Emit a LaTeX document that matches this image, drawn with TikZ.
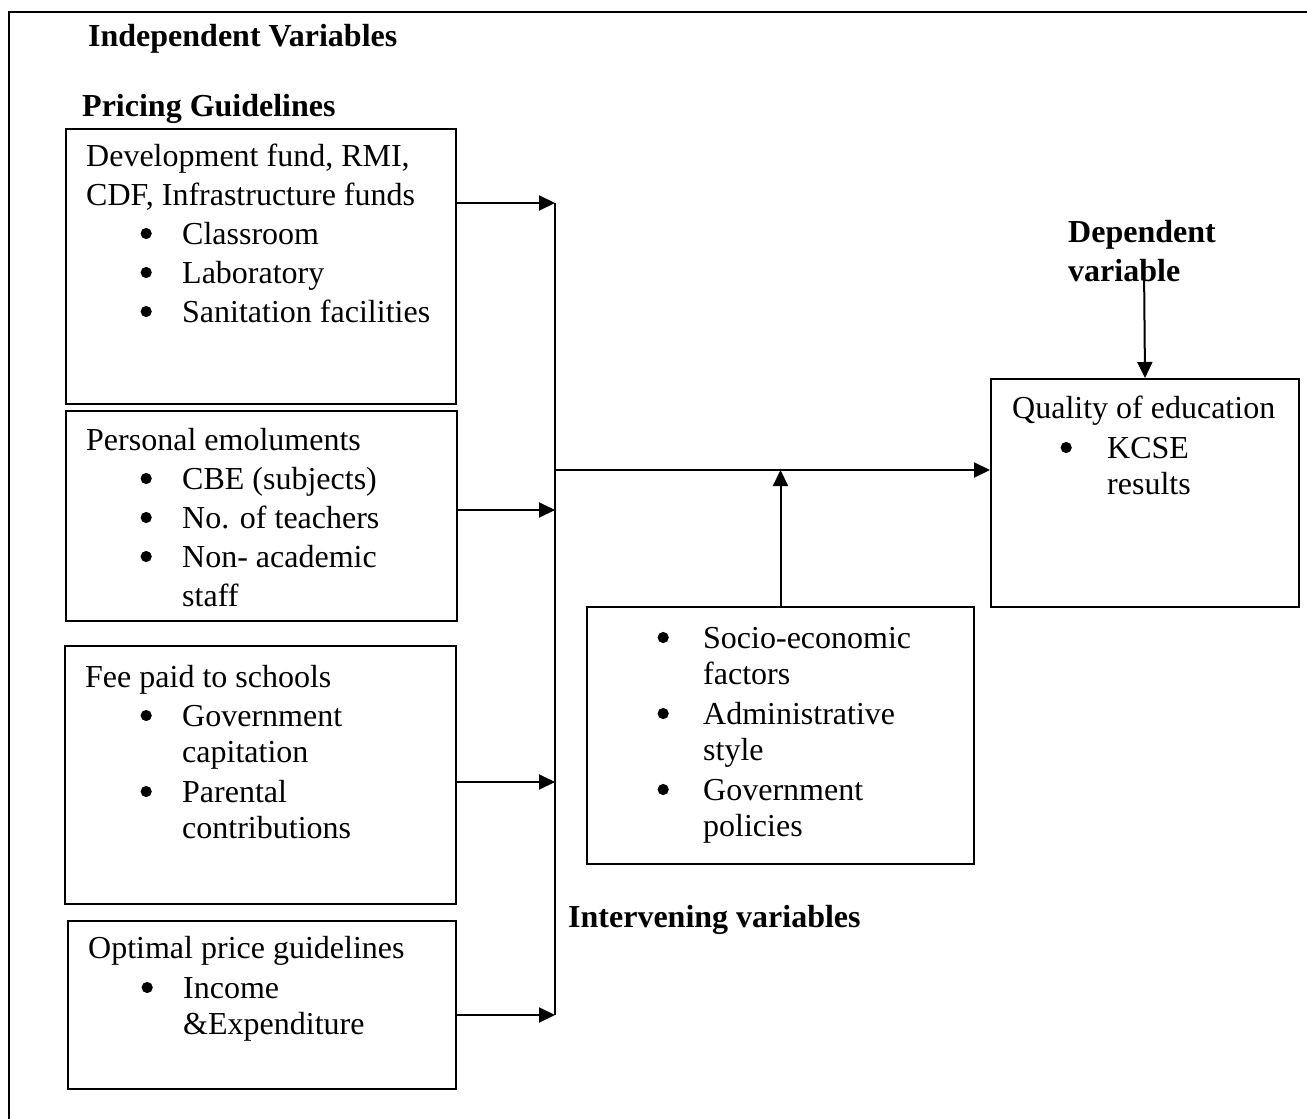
\documentclass[tikz,border=0pt]{standalone}
\usepackage{fontspec}
\setmainfont{Liberation Serif}
\usetikzlibrary{arrows.meta}
\newcommand\bul{\tikz[x=1pt,y=1pt,baseline=0pt]\fill (0,10.5) circle (5.6pt);}
\newcommand\bi[3]{\hspace*{#1}\makebox[#2][l]{\bul}#3}
\begin{document}
\begin{tikzpicture}[x=1pt,y=-1pt,
  box/.style={draw,line width=2pt,inner sep=0pt,anchor=north west},
  txt/.style={inner sep=0pt,anchor=base west,font=\fontsize{32pt}{39pt}\selectfont},
  hd/.style={inner sep=0pt,anchor=base west,font=\fontsize{32pt}{39pt}\selectfont\bfseries},
  ln/.style={line width=2pt},
  arr/.style={line width=2pt,-{Triangle[length=16pt,width=15pt]}},
  frame/.style={line width=2.5pt}]
\useasboundingbox (0,0) rectangle (1307,1119);
% outer frame
\draw[frame] (9,1119) -- (9,12) -- (1307,12);

% headings
\node[hd] (indep) at (88,46) {Independent Variables};
\node[hd] (pricing) at (82,116) {Pricing Guidelines};
\node[hd] (interv) at (568,927) {Intervening variables};
\node[hd] (dep) at (1068,242) {\begin{tabular}[t]{@{}l@{}}Dependent\\variable\end{tabular}};

% boxes
\node[box,minimum width=390pt,minimum height=275pt] (b1) at (65,128) {};
\node[box,minimum width=391pt,minimum height=210pt] (b2) at (65,410) {};
\node[box,minimum width=391pt,minimum height=258pt] (b3) at (64,645) {};
\node[box,minimum width=388pt,minimum height=168pt] (b4) at (67,920) {};
\node[box,minimum width=387pt,minimum height=257pt] (iv) at (586,606) {};
\node[box,minimum width=308pt,minimum height=228pt] (q) at (990,378) {};

% box texts
\node[txt] (t1) at (86,166) {\begin{tabular}[t]{@{}l@{}}
Development fund, RMI,\\
CDF, Infrastructure funds\\
\bi{54.4pt}{41.6pt}{Classroom}\\
\bi{54.4pt}{41.6pt}{Laboratory}\\
\bi{54.4pt}{41.6pt}{Sanitation facilities}
\end{tabular}};
\node[txt] (t2) at (86,450) {\begin{tabular}[t]{@{}l@{}}
Personal emoluments\\
\bi{54.4pt}{41.6pt}{CBE (subjects)}\\
\bi{54.4pt}{41.6pt}{No. of teachers}\\
\bi{54.4pt}{41.6pt}{Non- academic}\\
\hspace*{96pt}staff
\end{tabular}};
\node[txt] (t3) at (85,687) {\begin{tabular}[t]{@{}l@{}}
Fee paid to schools\\
\bi{55.4pt}{41.6pt}{Government}\\[-3pt]
\hspace*{97pt}capitation\\[1pt]
\bi{55.4pt}{41.6pt}{Parental}\\[-3pt]
\hspace*{97pt}contributions
\end{tabular}};
\node[txt] (t4) at (88,958) {\begin{tabular}[t]{@{}l@{}}
Optimal price guidelines\\[1pt]
\bi{53.4pt}{41.6pt}{Income}\\[-3pt]
\hspace*{95pt}\&Expenditure
\end{tabular}};
\node[txt] (tiv) at (657.4,648) {\begin{tabular}[t]{@{}l@{}}
\bi{0pt}{45.6pt}{Socio-economic}\\[-3pt]
\hspace*{45.6pt}factors\\[1pt]
\bi{0pt}{45.6pt}{Administrative}\\[-3pt]
\hspace*{45.6pt}style\\[1pt]
\bi{0pt}{45.6pt}{Government}\\[-3pt]
\hspace*{45.6pt}policies
\end{tabular}};
\node[txt] (tq) at (1012,418) {\begin{tabular}[t]{@{}l@{}}
Quality of education\\[1pt]
\bi{48.4pt}{46.6pt}{KCSE}\\[-3pt]
\hspace*{95pt}results
\end{tabular}};

% bus and connectors
\coordinate (j1) at (555,203);
\coordinate (j2) at (555,510);
\coordinate (j3) at (555,782);
\coordinate (j4) at (555,1015);
\coordinate (jm) at (555,470);
\coordinate (depstart) at (1144,265);
\draw[ln] (j1) -- (j4);
\draw[arr] (b1.east |- j1) -- (j1);
\draw[arr] (b2.east |- j2) -- (j2);
\draw[arr] (b3.east |- j3) -- (j3);
\draw[arr] (b4.east |- j4) -- (j4);
\draw[arr] (jm) -- (jm -| q.west);
\draw[arr] (iv.north) -- (iv.north |- jm);
\draw[arr] (depstart) -- (q.north);
\end{tikzpicture}
\end{document}
